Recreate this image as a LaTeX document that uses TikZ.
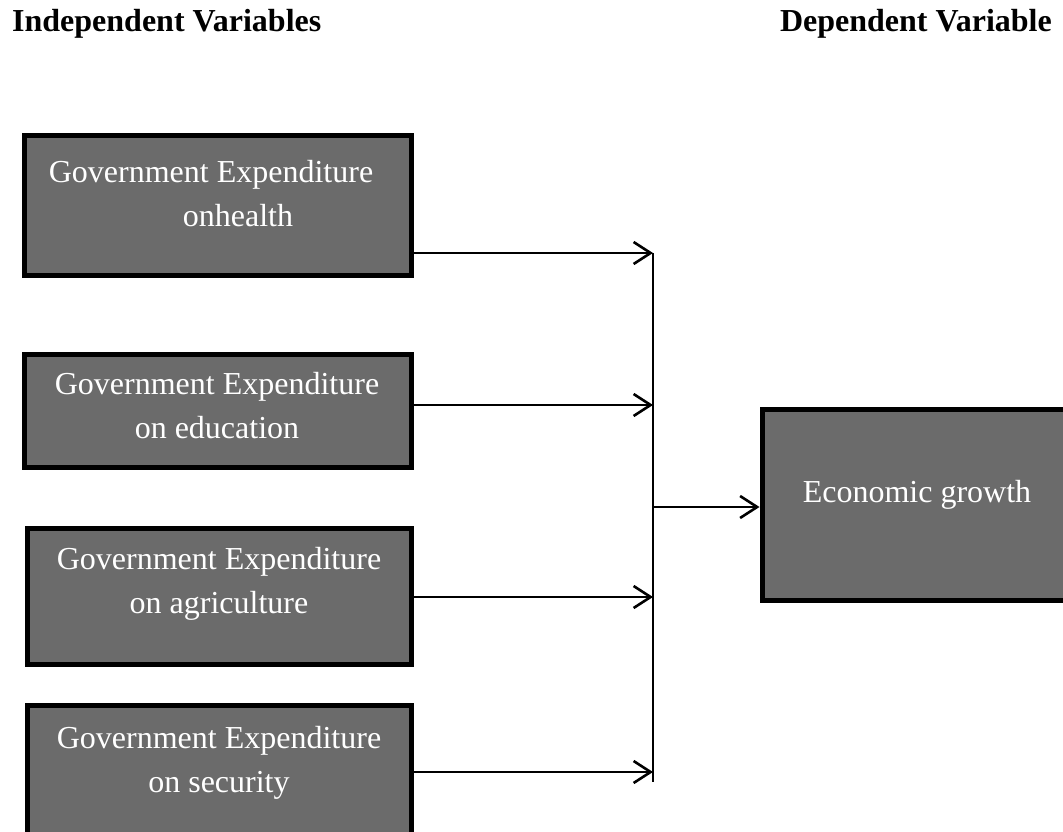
\documentclass[tikz,border=0pt]{standalone}
\usepackage{fontspec}
\setmainfont{Liberation Serif}
\usetikzlibrary{arrows.meta}
\definecolor{boxgray}{RGB}{107,107,107}
\begin{document}
\begin{tikzpicture}[x=1pt, y=-1pt, font=\fontsize{32}{44}\selectfont,
  varbox/.style={draw, line width=5pt, fill=boxgray, inner sep=0pt},
  boxtext/.style={text=white, align=center, anchor=base, inner sep=0pt},
  head/.style={font=\fontsize{32}{44}\selectfont\bfseries, inner sep=0pt},
  feed/.style={line width=2pt, -{Straight Barb[length=17pt,width=22pt,line width=2.6pt]}}]
\path[use as bounding box, clip] (0,0) rectangle (1063,832);
\node[head, anchor=base west] (indep) at (12,32) {Independent Variables};
\node[head, anchor=base east] (dep) at (1052,32) {Dependent Variable};
\foreach \n/\x/\y/\w/\h in {gh/218/205.5/387/140, ge/218/411/387/113,
  ga/219.5/596.5/384/136, gs/219.5/778/384/145} {
  \node[varbox, minimum width=\w pt, minimum height=\h pt] (\n) at (\x,\y) {};
}
% anchor=base sits on the last line
\node[boxtext] (th) at (211,226) {Government Expenditure\\\hspace*{54pt}onhealth};
\node[boxtext] (te) at (217,438) {Government Expenditure\\on education};
\node[boxtext] (ta) at (219,613) {Government Expenditure\\on agriculture};
\node[boxtext] (ts) at (219,792) {Government Expenditure\\on security};
\node[varbox, minimum width=318pt, minimum height=191pt] (growth) at (921,505) {};
\node[boxtext] (tg) at (917,502) {Economic growth};
\foreach \n/\y in {gh/253, ge/405, ga/597, gs/772} {
  \coordinate (j\n) at (653,\y);
  \draw[feed] (\n.east |- j\n) -- (j\n);
}
\coordinate (busend) at (653,782);
\coordinate (bus) at (653,507);
\draw[line width=1.5pt] (jgh) -- (busend);
\draw[feed, line width=2.5pt] (bus) -- (growth.west |- bus);
\end{tikzpicture}
\end{document}
